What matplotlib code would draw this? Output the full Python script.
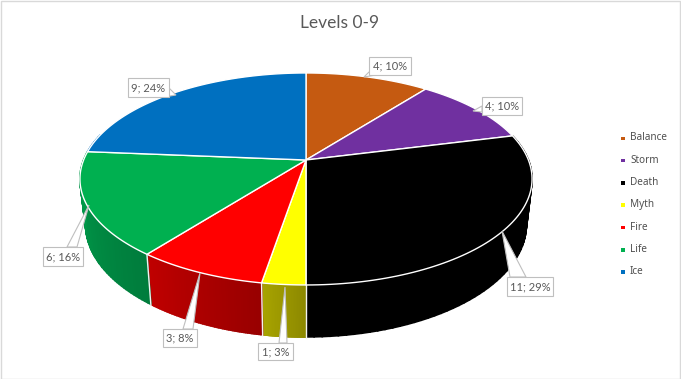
import numpy as np
import matplotlib
matplotlib.use('Agg')
import matplotlib.pyplot as plt
from matplotlib.patches import Polygon, Rectangle

title = 'Levels 0-9'
names = ['Balance', 'Storm', 'Death', 'Myth', 'Fire', 'Life', 'Ice']
counts = [4, 4, 11, 1, 3, 6, 9]
pcts = [10, 10, 29, 3, 8, 16, 24]
top_colors = ['#c55a11', '#7030a0', '#000000', '#ffff00', '#ff0000', '#00b050', '#0070c0']
# side shade, left end then right end of the visible wall
side_left = ['#000000', '#000000', '#000000', '#a8a400', '#c00000', '#00a04c', '#0070c0']
side_right = ['#000000', '#000000', '#000000', '#8c8800', '#980000', '#007c3c', '#0070c0']
# label box x0, y0, x1, y1 then leader tip and leader base (pixels)
boxes = [(369, 57, 411, 75), (482, 97, 522, 115), (507, 277, 553, 296), (258, 343, 293, 360),
         (163, 329, 197, 347), (43, 247, 83, 266), (128, 78, 169, 97)]
tips = [(364, 77), (473, 111), (502, 231), (285, 287), (200, 273), (89, 205), (176, 95)]
bases = [((369, 72), (376, 75)), ((482, 106), (482, 112)), ((510, 277), (526, 277)),
         ((279, 343), (287, 343)), ((183, 329), (193, 329)), ((67, 247), (77, 247)), ((164, 97), (169, 88))]

fig = plt.figure(figsize=(6.81, 3.79), dpi=100)
ax = fig.add_axes([0, 0, 1, 1])
ax.set_xlim(0, 681)
ax.set_ylim(379, 0)
ax.axis('off')

# frame of the pasted chart
ax.add_patch(Rectangle((0.5, 0.5), 679, 378, fc='white', ec='#d9d9d9', lw=1))


def rim(t):
    # t in radians clockwise from the top, circle seen in perspective
    u, v = np.sin(t), -np.cos(t)
    d = 1 - 0.179 * v
    return 306 + 222.4 * u / d, 160 + 102.6 * v / d


def lower(x, y):
    return 306 + 0.975 * (x - 306), y + 52 + (y - 286) * 0.06


def mix(c0, c1, f):
    a = np.array(matplotlib.colors.to_rgb(c0))
    b = np.array(matplotlib.colors.to_rgb(c1))
    return a * f + b * (1 - f)


edges = np.cumsum([0] + counts) / sum(counts) * 2 * np.pi

# wall first
for i in range(len(counts)):
    a0, a1 = edges[i], edges[i + 1]
    ts = np.linspace(a0, a1, 60)
    xs, ys = rim(ts)
    for j in range(len(ts) - 1):
        # only the front half of the rim has a wall
        if not (np.pi * 0.42 < ts[j] < np.pi * 1.58):
            continue
        x0, y0 = xs[j], ys[j]
        x1, y1 = xs[j + 1], ys[j + 1]
        bx0, by0 = lower(x0, y0)
        bx1, by1 = lower(x1, y1)
        f = (ts[j] - a0) / (a1 - a0)
        c = mix(side_left[i], side_right[i], f)
        ax.add_patch(Polygon([(x0, y0), (x1, y1), (bx1, by1), (bx0, by0)], fc=c, ec=c, lw=1.2, zorder=2))

# white seams between walls
for i in range(len(counts)):
    if np.pi * 0.42 < edges[i] < np.pi * 1.58:
        x0, y0 = rim(edges[i])
        bx0, by0 = lower(x0, y0)
        ax.plot([x0, bx0], [y0, by0 + 1], color='#f2f2f2', lw=1, zorder=3)

# top face
for i in range(len(counts)):
    ts = np.linspace(edges[i], edges[i + 1], 80)
    xs, ys = rim(ts)
    pts = [(306, 160)] + list(zip(xs, ys))
    ax.add_patch(Polygon(pts, fc=top_colors[i], ec='white', lw=1, joinstyle='round', zorder=4))

# data labels with their leaders
for i in range(len(counts)):
    b = boxes[i]
    ax.add_patch(Polygon([tips[i], bases[i][0], bases[i][1]], fc='white', ec='#bfbfbf', lw=0.8, zorder=5))
    ax.add_patch(Rectangle((b[0], b[1]), b[2] - b[0], b[3] - b[1], fc='white', ec='#bfbfbf', lw=0.8, zorder=6))
    ax.text((b[0] + b[2]) / 2, (b[1] + b[3]) / 2, '%d; %d%%' % (counts[i], pcts[i]), fontsize=8,
            family='Lato', color='#595959', ha='center', va='center', zorder=7)

ax.text(340, 23, title, fontsize=12.5, family='Lato', color='#595959', ha='center', va='center')

# legend
for i, n in enumerate(names):
    y = 138 + i * 22.3
    ax.add_patch(Rectangle((621, y - 1.5), 3.5, 3.5, fc=top_colors[i], ec='none'))
    ax.text(630, y, n, fontsize=7.2, family='Noto Sans', color='#505050', ha='left', va='center')

fig.savefig('out.png', dpi=100)
